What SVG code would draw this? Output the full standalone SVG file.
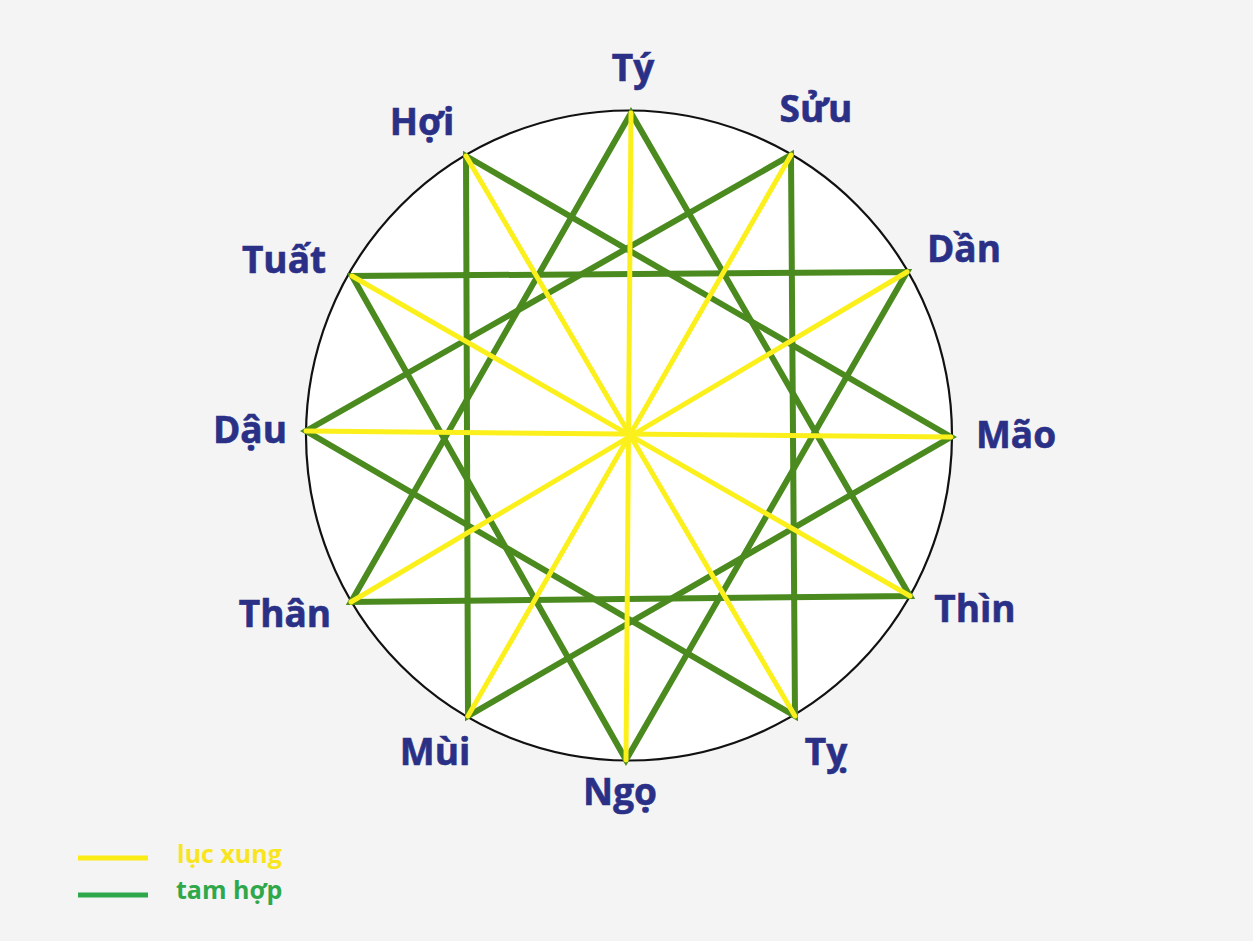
<svg xmlns="http://www.w3.org/2000/svg" width="1253" height="941" viewBox="0 0 1253 941">
<style>
.lbl{font-family:"Open Sans","Noto Sans","DejaVu Sans",sans-serif;font-weight:bold;font-size:37px;fill:#2b3087;stroke:#2b3087;stroke-width:0.6;text-anchor:middle}
.g{stroke:#4b8a1e;stroke-width:6;stroke-linecap:round;fill:none}
.y{stroke:#fbf01c;stroke-width:5;stroke-linecap:round;fill:none}
.leg{font-family:"Open Sans","Noto Sans","DejaVu Sans",sans-serif;font-weight:bold;font-size:25px}
</style>
<rect width="1253" height="941" fill="#f4f4f4"/>
<ellipse id="circle" cx="629" cy="435.5" rx="323" ry="325" fill="#ffffff" stroke="#111" stroke-width="2.2"/>
<g id="connectors">
<g id="tam-hop">
<polygon class="g" points="631,113 910,596 351,602"/>
<polygon class="g" points="791,155 795,716 306,431"/>
<polygon class="g" points="907,272 626,760 352,276"/>
<polygon class="g" points="466,156 951,437 468,716"/>
</g>
<g id="luc-xung">
<line class="y" x1="631" y1="113" x2="626" y2="760"/>
<line class="y" x1="791" y1="155" x2="468" y2="716"/>
<line class="y" x1="907" y1="272" x2="351" y2="602"/>
<line class="y" x1="951" y1="437" x2="306" y2="431"/>
<line class="y" x1="910" y1="596" x2="352" y2="276"/>
<line class="y" x1="795" y1="716" x2="466" y2="156"/>
</g>
</g>
<g id="ty"><text class="lbl" x="633" y="81">Tý</text></g>
<g id="suu"><text class="lbl" x="816" y="122">Sửu</text></g>
<g id="dan"><text class="lbl" x="964" y="262">Dần</text></g>
<g id="mao"><text class="lbl" x="1016" y="448">Mão</text></g>
<g id="thin"><text class="lbl" x="975" y="622">Thìn</text></g>
<g id="ty2"><text class="lbl" x="826" y="765">Tỵ</text></g>
<g id="ngo"><text class="lbl" x="620" y="805">Ngọ</text></g>
<g id="mui"><text class="lbl" x="435" y="765">Mùi</text></g>
<g id="than"><text class="lbl" x="285" y="627">Thân</text></g>
<g id="dau"><text class="lbl" x="250" y="443">Dậu</text></g>
<g id="tuat"><text class="lbl" x="284" y="273">Tuất</text></g>
<g id="hoi"><text class="lbl" x="422" y="135">Hợi</text></g>
<g id="legend">
<line x1="78" y1="858" x2="148" y2="858" stroke="#fbec16" stroke-width="5"/>
<text class="leg" x="177" y="863" fill="#f9e51f">lục xung</text>
<line x1="78" y1="895" x2="148" y2="895" stroke="#2ea84a" stroke-width="5"/>
<text class="leg" x="176" y="899" fill="#2ea84a">tam hợp</text>
</g>
</svg>
